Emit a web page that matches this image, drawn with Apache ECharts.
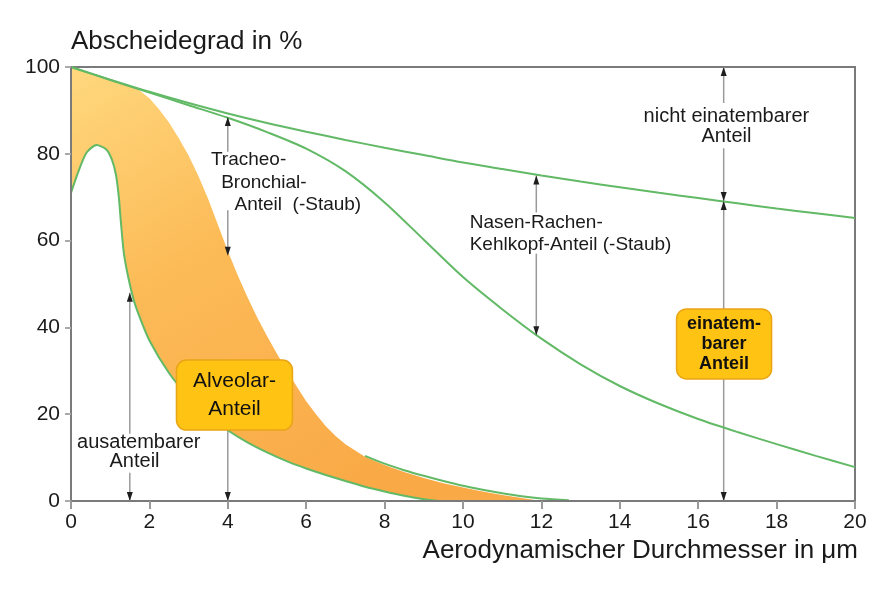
<!DOCTYPE html>
<html><head><meta charset="utf-8">
<script src="https://cdn.jsdelivr.net/npm/echarts@6/dist/echarts.min.js"></script>
<style>html,body{margin:0;padding:0;background:#fff}#c{width:893px;height:590px}</style>
</head><body><div id="c"></div>
<script>
// ---- data ----
const xTicks = [0, 2, 4, 6, 8, 10, 12, 14, 16, 18, 20];
const yTicks = [0, 20, 40, 60, 80, 100];

// inhalable fraction (upper curve)
const inhalableCurve = [[0,100],[1,97.1],[2,94.3],[3,91.7],[4,89.3],[5,87.1],[6,85.1],[7,83.2],[8,81.4],[9,79.7],[10,78.0],[11,76.5],[12,75.0],[13,73.6],[14,72.3],[15,71.0],[16,69.8],[17,68.6],[18,67.4],[19,66.3],[20,65.2]];
// thoracic fraction (middle curve)
const thoracicCurve = [[0,100],[1,97.0],[2,94.1],[3,91.2],[4,88.3],[5,85.0],[6,81.2],[7,76.0],[8,68.8],[9,60.2],[10,51.6],[11,44.2],[12,37.4],[13,31.5],[14,26.5],[15,22.4],[16,18.9],[17,15.9],[18,13.1],[19,10.4],[20,7.8]];
// alveolar band: upper edge
const alveolarUpper = [[0,100],[0.5,98.6],[1,97.1],[1.5,95.7],[1.75,94.6],[2,92.8],[2.25,90.2],[2.5,87.2],[2.75,83.6],[3,79.6],[3.25,74.9],[3.5,69.6],[3.75,63.6],[4,57.6],[4.25,52.1],[4.5,47],[4.75,42.3],[5,38],[5.25,34],[5.5,30.2],[5.75,26.5],[6,23],[6.25,20],[6.5,17.2],[6.75,15],[7,13.1],[7.5,10.2],[8,8.3],[8.5,6.7],[9,5.3],[9.5,4.1],[10,3.1],[10.5,2.2],[11,1.4],[11.5,0.7],[12,0]];
// alveolar band: lower edge (bell curve)
const alveolarLower = [[0,71],[0.2,76.2],[0.4,80.3],[0.65,82],[0.9,81],[1.05,78.5],[1.15,75],[1.22,70],[1.28,63.5],[1.35,57],[1.45,52],[1.6,46.3],[1.75,42.4],[2,37],[2.5,29.5],[3,24],[3.5,19.8],[4,16.3],[4.5,13.5],[5,11.2],[5.5,9.2],[6,7.5],[6.5,6],[7,4.6],[7.5,3.3],[8,2.2],[8.5,1.2],[9,0.4],[9.4,0]];
// green tail line above the end of the band
const alveolarTail = [[7.5,10.4],[8,8.6],[8.5,7.1],[9,5.8],[9.5,4.6],[10,3.5],[10.5,2.6],[11,1.8],[11.5,1.1],[12,0.6],[12.7,0.2]];

// dimension arrows: [x, yFrom, yTo]
const arrowLines = [[1.5,48,15.5],[1.5,6.5,0],[4,88.5,80.5],[4,67,0],[11.87,75,66.5],[11.87,57,38.2],[16.65,100,91.7],[16.65,81.3,0]];
// arrow heads: [x, yTip, direction(1 = up, -1 = down)]
const arrowHeads = [[1.5,48,1],[1.5,0,-1],[4,88.5,1],[4,56.5,-1],[4,0,-1],[11.87,75,1],[11.87,38.2,-1],[16.65,100,1],[16.65,69.1,-1],[16.65,69.1,1],[16.65,0,-1]];

// annotation texts
const labelTexts = ['Tracheo-', 'Bronchial-', 'Anteil  (-Staub)', 'Nasen-Rachen-', 'Kehlkopf-Anteil (-Staub)', 'nicht einatembarer', 'Anteil', 'ausatembarer', 'Anteil'];
const boxTexts = ['Alveolar-\nAnteil', 'einatem-\nbarer\nAnteil'];

// ---- layout (anchors in axis units, styles) ----
const labelLayout = [
  {at:[3.57,78.6], align:'left'}, {at:[3.83,73.3], align:'left'}, {at:[4.17,68.2], align:'left'},
  {at:[10.17,64.1], align:'left'}, {at:[10.17,59.0], align:'left'},
  {at:[16.72,88.5], align:'center', size:20}, {at:[16.72,83.9], align:'center', size:20},
  {at:[1.73,13.4], align:'center', size:20}, {at:[1.62,9.0], align:'center', size:20}
];
const boxLayout = [
  {at:[4.17,24.4], w:116, h:70, size:21, lh:28, weight:'normal'},
  {at:[16.66,36.2], w:95, h:70, size:18, lh:20, weight:'bold'}
];

const FONT = "'Liberation Sans', Arial, Helvetica, sans-serif";
const GREEN = '#62b966';
const TXT = '#1a1a1a';

const chart = echarts.init(document.getElementById('c'), null, {renderer:'canvas'});

const greenLine = (name, data, extra) => Object.assign({
  name, type:'line', data, showSymbol:false, symbol:'none', smooth:0.3,
  lineStyle:{color:GREEN, width:2}, z:3, silent:true
}, extra || {});

chart.setOption({
  animation:false,
  backgroundColor:'#fff',
  grid:{left:71, right:38, top:67, bottom:89, show:true, borderColor:'#7a7a7a', borderWidth:2, backgroundColor:'transparent'},
  xAxis:{
    type:'value', min:0, max:20, interval:2, z:5,
    name:'Aerodynamischer Durchmesser in μm', nameLocation:'end', nameGap:3,
    nameTextStyle:{fontFamily:FONT, fontSize:26, color:TXT, align:'right', verticalAlign:'top', padding:[37,0,0,0]},
    axisLine:{show:true, lineStyle:{color:'#7a7a7a', width:2}},
    axisTick:{show:true, inside:false, length:8, lineStyle:{color:'#999', width:2}},
    axisLabel:{margin:11, fontFamily:FONT, fontSize:21, color:TXT,
      formatter:v => xTicks.indexOf(v) >= 0 ? String(v) : ''},
    splitLine:{show:false}
  },
  yAxis:{
    type:'value', min:0, max:100, interval:20, z:5,
    name:'Abscheidegrad in %', nameLocation:'end', nameGap:25,
    nameTextStyle:{fontFamily:FONT, fontSize:26, color:TXT, align:'left', verticalAlign:'middle'},
    axisLine:{show:true, lineStyle:{color:'#7a7a7a', width:2}},
    axisTick:{show:true, inside:false, length:6, lineStyle:{color:'#aaa', width:2}},
    axisLabel:{margin:11, fontFamily:FONT, fontSize:21, color:TXT,
      formatter:v => yTicks.indexOf(v) >= 0 ? String(v) : ''},
    splitLine:{show:false}
  },
  series:[
    { // arrow shafts
      type:'custom', name:'arrowLines', z:1, silent:true,
      data: arrowLines.map((a,i)=>[a[0], a[1], i]),
      renderItem:(params, api) => {
        const a = arrowLines[params.dataIndex];
        const p1 = api.coord([a[0], a[1]]), p2 = api.coord([a[0], a[2]]);
        return {type:'line', shape:{x1:p1[0], y1:p1[1], x2:p2[0], y2:p2[1]}, style:{stroke:'#9a9a9a', lineWidth:1.5}};
      }
    },
    { // alveolar band
      type:'custom', name:'alveolarBand', z:2, silent:true,
      data:[[0,100]],
      renderItem:(params, api) => {
        const pts = alveolarUpper.map(p => api.coord(p)).concat(alveolarLower.slice().reverse().map(p => api.coord(p)));
        return {type:'polygon', shape:{points:pts},
          style:{fill:new echarts.graphic.LinearGradient(0,0,0.55,1,[
            {offset:0, color:'#ffd87e'},{offset:0.45, color:'#fcbb57'},{offset:1, color:'#f9aa47'}])}};
      }
    },
    greenLine('inhalable', inhalableCurve),
    greenLine('thoracic', thoracicCurve),
    greenLine('alveolarLower', alveolarLower, {smooth:0.25}),
    greenLine('alveolarTail', alveolarTail),
    { // arrow heads
      type:'custom', name:'arrowHeads', z:4, silent:true,
      data: arrowHeads.map(h=>[h[0], h[1]]),
      renderItem:(params, api) => {
        const h = arrowHeads[params.dataIndex];
        const p = api.coord([h[0], h[1]]);
        const d = h[2]; // 1 up, -1 down
        const L = 9, W = 3;
        return {type:'polygon', shape:{points:[[p[0], p[1]], [p[0]-W, p[1]+d*L], [p[0]+W, p[1]+d*L]]},
          style:{fill:'#1e1e1e'}};
      }
    },
    { // annotation texts
      type:'custom', name:'labels', z:5, silent:true,
      data: labelLayout.map(l=>l.at),
      renderItem:(params, api) => {
        const l = labelLayout[params.dataIndex];
        const p = api.coord(l.at);
        return {type:'text', style:{text:labelTexts[params.dataIndex], x:p[0], y:p[1],
          fill:TXT, fontFamily:FONT, fontSize:l.size || 19, align:l.align, verticalAlign:'middle'}};
      }
    },
    { // yellow boxes
      type:'custom', name:'boxes', z:6, silent:true,
      data: boxLayout.map(b=>b.at),
      renderItem:(params, api) => {
        const b = boxLayout[params.dataIndex];
        const p = api.coord(b.at);
        return {type:'group', children:[
          {type:'rect', shape:{x:p[0]-b.w/2, y:p[1]-b.h/2, width:b.w, height:b.h, r:10},
            style:{fill:'#fec313', stroke:'#eaa516', lineWidth:1.5}},
          {type:'text', style:{text:boxTexts[params.dataIndex], x:p[0], y:p[1], fill:'#111',
            fontFamily:FONT, fontSize:b.size, fontWeight:b.weight, lineHeight:b.lh, align:'center', verticalAlign:'middle'}}
        ]};
      }
    }
  ]
});
</script>
</body></html>
